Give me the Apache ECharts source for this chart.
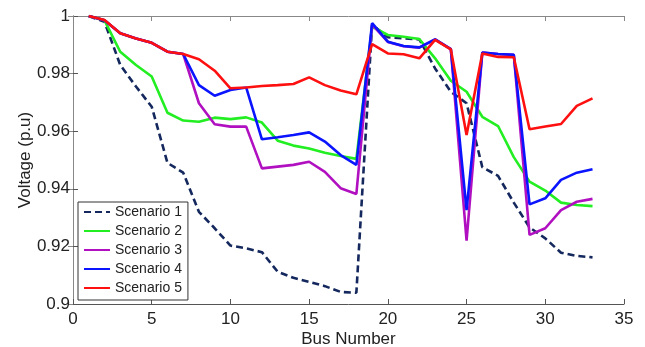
<!DOCTYPE html>
<html>
<head>
<meta charset="utf-8">
<script src="https://cdn.jsdelivr.net/npm/echarts@6/dist/echarts.min.js"></script>
<style>html,body{margin:0;padding:0;background:#fff;}#c{width:645px;height:347px;}</style>
</head>
<body>
<div id="c"></div>
<script>
const buses = [1,2,3,4,5,6,7,8,9,10,11,12,13,14,15,16,17,18,19,20,21,22,23,24,25,26,27,28,29,30,31,32,33];
const seriesNames = ['Scenario 1','Scenario 2','Scenario 3','Scenario 4','Scenario 5'];
const scenario1 = [1.0,0.998,0.983,0.9755,0.9685,0.949,0.9456,0.932,0.9263,0.9203,0.9193,0.918,0.9112,0.9091,0.9077,0.9062,0.9042,0.9039,0.997,0.9926,0.9922,0.9919,0.9818,0.9737,0.9697,0.9475,0.9445,0.9352,0.9266,0.9228,0.9178,0.9167,0.9162];
const scenario2 = [1.0,0.9985,0.9876,0.983,0.979,0.9664,0.9637,0.9633,0.9647,0.9642,0.9648,0.963,0.9567,0.955,0.954,0.9525,0.9514,0.9504,0.9963,0.9934,0.9928,0.992,0.9853,0.9775,0.9737,0.965,0.9618,0.951,0.9425,0.9394,0.9352,0.9344,0.934];
const scenario3 = [1.0,0.9985,0.994,0.9922,0.9907,0.9876,0.9868,0.9697,0.9624,0.9616,0.9616,0.9471,0.9477,0.9483,0.9494,0.9459,0.9402,0.9382,0.997,0.991,0.9895,0.989,0.9919,0.9885,0.922,0.9873,0.9868,0.9865,0.924,0.9263,0.9326,0.9355,0.9365];
const scenario4 = [1.0,0.9985,0.994,0.9922,0.9907,0.9876,0.9868,0.976,0.9723,0.9743,0.9752,0.9572,0.9579,0.9587,0.9596,0.9564,0.9517,0.9483,0.9975,0.9911,0.9896,0.9891,0.9919,0.9885,0.9326,0.9873,0.9868,0.9865,0.9346,0.9367,0.9431,0.9456,0.9468];
const scenario5 = [1.0,0.9986,0.994,0.9922,0.9907,0.9876,0.9868,0.985,0.981,0.9749,0.9752,0.9757,0.976,0.9764,0.9787,0.976,0.9741,0.9728,0.9902,0.987,0.9867,0.9853,0.9917,0.9884,0.9587,0.987,0.9858,0.9857,0.9607,0.9616,0.9625,0.9688,0.9714];
const xTicks = [0,5,10,15,20,25,30,35];
const yTicks = [0.9,0.92,0.94,0.96,0.98,1];

const allData = [scenario1, scenario2, scenario3, scenario4, scenario5];
const colors = ['#14285e', '#22ee22', '#b010c0', '#0a14ff', '#ff1010'];
const font = 'Liberation Sans, Arial, sans-serif';
const axisColor = '#555';

const chart = echarts.init(document.getElementById('c'), null, {renderer: 'canvas'});
const series = allData.map((d, i) => ({
  name: seriesNames[i],
  type: 'line',
  data: buses.map((b, j) => [b, d[j]]),
  symbol: 'none',
  showSymbol: false,
  animation: false,
  lineStyle: {color: colors[i], width: 2.6, type: i === 0 ? [7, 4] : 'solid'},
  itemStyle: {color: colors[i]},
  z: 2 + i
}));

const xMin = xTicks[0], xMax = xTicks[xTicks.length - 1];
const yMin = yTicks[0], yMax = yTicks[yTicks.length - 1];

chart.setOption({
  animation: false,
  backgroundColor: '#fff',
  grid: {left: 73, right: 21, top: 16, bottom: 43, outerBoundsMode: 'none', containLabel: false},
  legend: {
    orient: 'vertical',
    left: 78, top: 202,
    data: seriesNames,
    itemWidth: 26, itemHeight: 14, itemGap: 5,
    padding: [3, 6, 5, 5],
    backgroundColor: '#fff',
    borderColor: '#333', borderWidth: 1,
    itemStyle: {opacity: 0},
    textStyle: {fontFamily: font, fontSize: 14, color: '#222'}
  },
  xAxis: [{
    type: 'value', min: xMin, max: xMax, interval: 5,
    name: 'Bus Number', nameLocation: 'middle', nameGap: 27, nameMoveOverlap: false,
    nameTextStyle: {fontFamily: font, fontSize: 17, color: '#222'},
    axisLine: {show: true, lineStyle: {color: axisColor, width: 1}},
    axisTick: {show: true, inside: true, length: 5, lineStyle: {color: axisColor}},
    axisLabel: {fontFamily: font, fontSize: 17, color: '#222', margin: 7},
    splitLine: {show: false}
  }, {
    type: 'value', min: xMin, max: xMax, interval: 5, position: 'top',
    axisLine: {show: true, lineStyle: {color: '#888', width: 1}},
    axisTick: {show: true, inside: true, length: 5, lineStyle: {color: '#888'}},
    axisLabel: {show: false}, splitLine: {show: false}
  }],
  yAxis: [{
    type: 'value', min: yMin, max: yMax, interval: 0.02,
    name: 'Voltage (p.u)', nameLocation: 'middle', nameGap: 39, nameMoveOverlap: false,
    nameTextStyle: {fontFamily: font, fontSize: 17, color: '#222'},
    axisLine: {show: true, lineStyle: {color: axisColor, width: 1}},
    axisTick: {show: true, inside: true, length: 5, lineStyle: {color: axisColor}},
    axisLabel: {fontFamily: font, fontSize: 17, color: '#222', margin: 3,
      formatter: v => String(+v.toFixed(2))},
    splitLine: {show: false}
  }, {
    type: 'value', min: yMin, max: yMax, interval: 0.02, position: 'right',
    axisLine: {show: true, lineStyle: {color: '#888', width: 1}},
    axisTick: {show: true, inside: true, length: 5, lineStyle: {color: '#888'}},
    axisLabel: {show: false}, splitLine: {show: false}
  }],
  series: series
});
</script>
</body>
</html>
